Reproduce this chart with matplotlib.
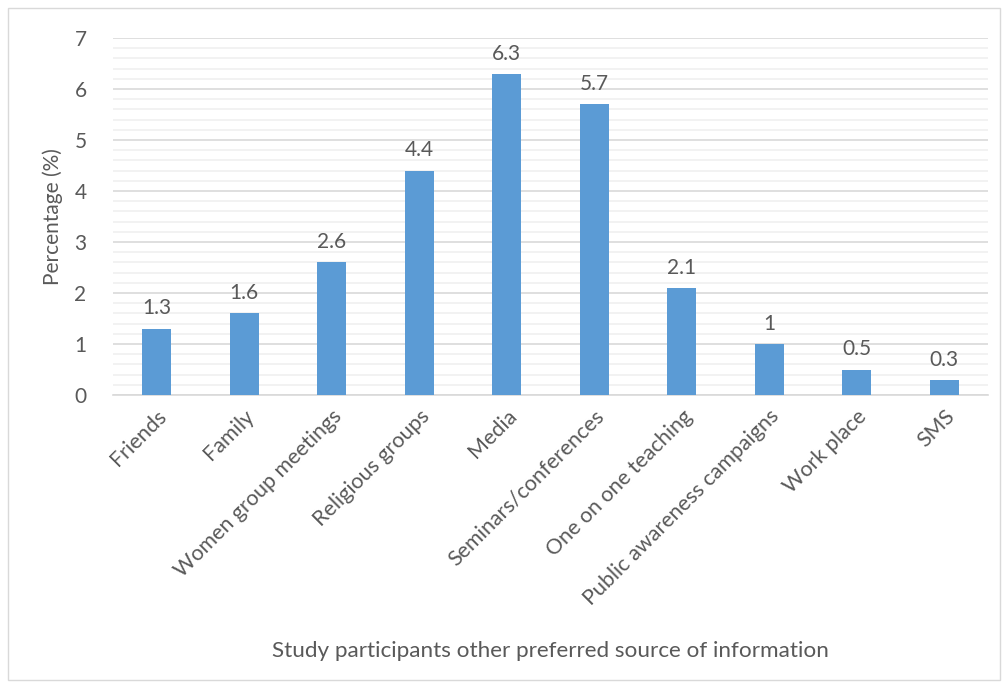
import matplotlib
matplotlib.use("Agg")
import matplotlib.pyplot as plt
from matplotlib.patches import Rectangle
from matplotlib.ticker import MultipleLocator

categories = ["Friends", "Family", "Women group meetings", "Religious groups", "Media",
              "Seminars/conferences", "One on one teaching", "Public awareness campaigns",
              "Work place", "SMS"]
values = [1.3, 1.6, 2.6, 4.4, 6.3, 5.7, 2.1, 1.0, 0.5, 0.3]
value_labels = ["1.3", "1.6", "2.6", "4.4", "6.3", "5.7", "2.1", "1", "0.5", "0.3"]

plt.rcParams['font.family'] = ['Lato', 'DejaVu Sans']
text_color = "#595959"
fs = 15

fig = plt.figure(figsize=(10.02, 6.88), dpi=100)
fig.patches.append(Rectangle((8 / 1002, 8 / 688), 992 / 1002, 672 / 688,
                             transform=fig.transFigure, fill=False,
                             edgecolor="#d9d9d9", linewidth=1))

ax = fig.add_axes([113 / 1002, 1 - 395 / 688, 875 / 1002, 357 / 688])
x = range(len(categories))
ax.bar(x, values, width=0.33, color="#5b9bd5", zorder=3)
for xi, v, lab in zip(x, values, value_labels):
    ax.text(xi, v + 0.2, lab, ha="center", va="bottom", fontsize=fs, color=text_color)

ax.set_xlim(-0.5, len(categories) - 0.5)
ax.set_ylim(0, 7)
ax.yaxis.set_major_locator(MultipleLocator(1))
ax.yaxis.set_minor_locator(MultipleLocator(0.2))
ax.grid(axis="y", which="major", color="#d9d9d9", linewidth=1.2, zorder=0)
ax.grid(axis="y", which="minor", color="#f0f0f0", linewidth=1.2, zorder=0)
for s in ["top", "right", "left"]:
    ax.spines[s].set_visible(False)
ax.spines["bottom"].set_color("#d9d9d9")
ax.spines["bottom"].set_linewidth(1.2)
ax.tick_params(axis="both", which="both", length=0, colors=text_color, labelsize=fs)
ax.tick_params(axis="y", pad=19)
ax.set_xticks(list(x))
ax.set_xticklabels(categories, rotation=45, ha="right", rotation_mode="anchor", fontsize=15.5)
ax.tick_params(axis="x", pad=8)

ax.set_ylabel("Percentage (%)", fontsize=fs, color=text_color, labelpad=8)
fig.text(550 / 1002, 1 - 651 / 688, "Study participants other preferred source of information",
         ha="center", va="center", fontsize=16.2, color=text_color)

fig.savefig("out.png", dpi=100)
